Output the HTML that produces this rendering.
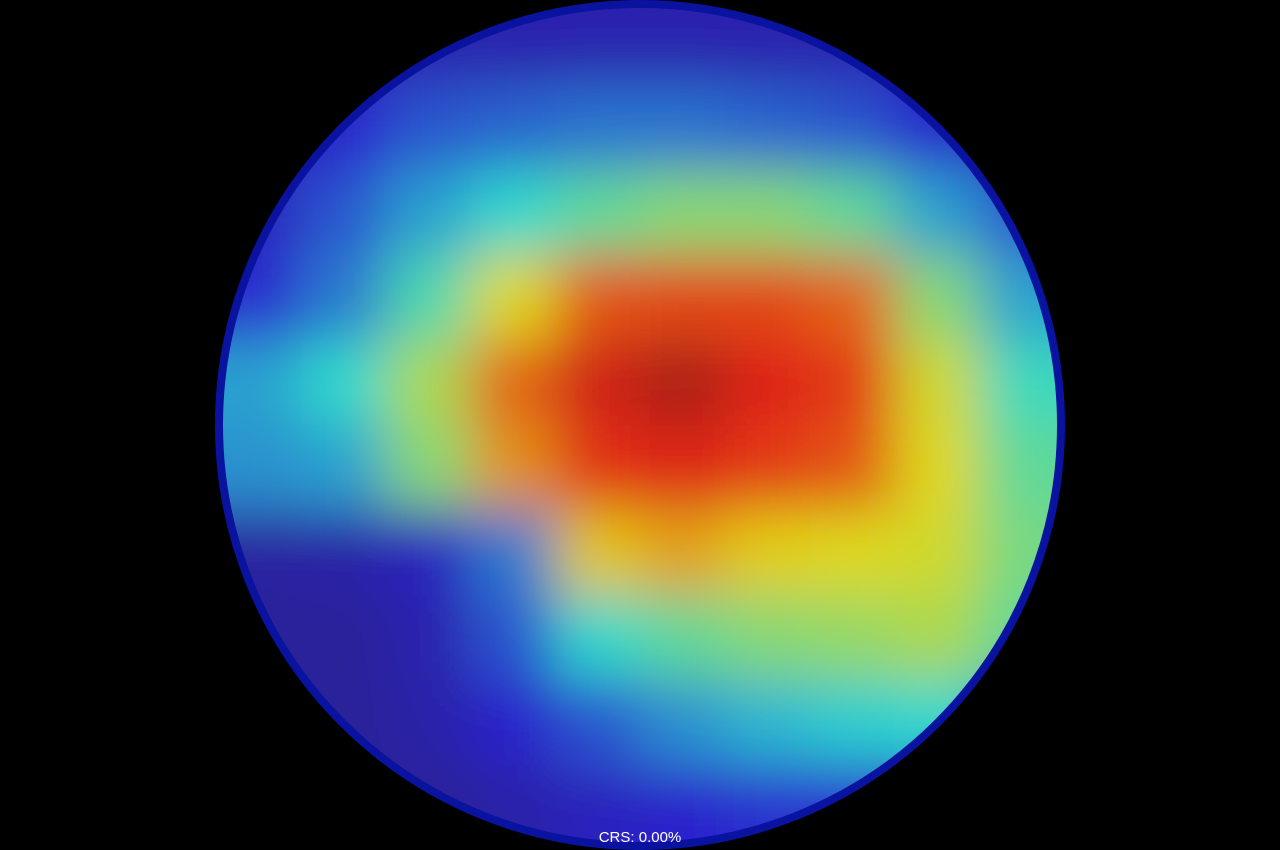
<!DOCTYPE html>
<html>
<head>
<meta charset="utf-8">
<style>
  html,body{margin:0;padding:0;background:#000;width:1280px;height:850px;overflow:hidden;}
  #wrap{position:relative;width:1280px;height:850px;overflow:hidden;}
  #chart{position:absolute;left:0;top:0;display:block;}
  #caption{position:absolute;left:0;width:1280px;top:829px;text-align:center;color:#fff;
    font-family:"Liberation Sans",sans-serif;font-size:15px;line-height:18px;}
</style>
</head>
<body>
<div id="wrap">
<svg id="chart" width="1280" height="850">
  <defs>
    <clipPath id="disc"><circle cx="640" cy="425" r="420"/></clipPath>
    <filter id="blur" x="-20%" y="-20%" width="140%" height="140%">
      <feGaussianBlur stdDeviation="28"/>
    </filter>
  </defs>
  <rect x="0" y="0" width="1280" height="850" fill="#000"/>
  <g clip-path="url(#disc)">
    <circle cx="640" cy="425" r="420" fill="#4c40c0"/>
    <g id="cells" filter="url(#blur)"></g>
  </g>
  <circle cx="640" cy="425" r="421" fill="none" stroke="#0a12a0" stroke-width="8"/>
</svg>
<div id="caption">CRS: 0.00%</div>
</div>
<script>
const colCenters = [0,1,2,3,4,5,6,7,8,9];
const rowCenters = [0,1,2,3,4,5,6,7,8,9];
const row0 = [0.08,0.08,0.08,0.08,0.08,0.08,0.08,0.08,0.08,0.08];
const row1 = [0.08,0.12,0.2,0.22,0.24,0.24,0.22,0.2,0.12,0.08];
const row2 = [0.1,0.2,0.3,0.38,0.45,0.5,0.5,0.45,0.3,0.2];
const row3 = [0.14,0.25,0.42,0.62,0.8,0.82,0.82,0.78,0.5,0.3];
const row4 = [0.3,0.38,0.55,0.78,0.9,0.95,0.88,0.84,0.6,0.4];
const row5 = [0.28,0.3,0.5,0.72,0.85,0.88,0.84,0.8,0.62,0.45];
const row6 = [0.06,0.07,0.1,0.25,0.65,0.7,0.64,0.62,0.6,0.48];
const row7 = [0.05,0.05,0.08,0.2,0.38,0.45,0.5,0.52,0.55,0.45];
const row8 = [0.05,0.05,0.07,0.12,0.2,0.28,0.33,0.36,0.38,0.3];
const row9 = [0.05,0.05,0.05,0.07,0.1,0.12,0.15,0.15,0.15,0.12];
const grid = [row0,row1,row2,row3,row4,row5,row6,row7,row8,row9];

const x0 = 216, y0 = 0, cw = 848/10, ch = 850/10;
function xScale(i){ return x0 + i*cw; }
function yScale(j){ return y0 + j*ch; }
function jet(v){
  const r = Math.min(1,Math.max(0,1.5-Math.abs(4*v-3)));
  const g = Math.min(1,Math.max(0,1.5-Math.abs(4*v-2)));
  const b = Math.min(1,Math.max(0,1.5-Math.abs(4*v-1)));
  const base = [150,115,85];
  const m = (c,k)=>Math.round(0.72*255*c+0.28*base[k]);
  return `rgb(${m(r,0)},${m(g,1)},${m(b,2)})`;
}
const ns = "http://www.w3.org/2000/svg";
const cells = document.getElementById('cells');
grid.forEach((row,j)=>{
  row.forEach((v,i)=>{
    const rc = document.createElementNS(ns,'rect');
    let x = xScale(colCenters[i]), y = yScale(rowCenters[j]);
    let w = cw, h = ch;
    if(i===0){ x -= 120; w += 120; }
    if(i===row.length-1){ w += 120; }
    if(j===0){ y -= 120; h += 120; }
    if(j===grid.length-1){ h += 120; }
    rc.setAttribute('x',x); rc.setAttribute('y',y);
    rc.setAttribute('width',w+1); rc.setAttribute('height',h+1);
    rc.setAttribute('fill',jet(v));
    
    
    cells.appendChild(rc);
  });
});
</script>
</body>
</html>
